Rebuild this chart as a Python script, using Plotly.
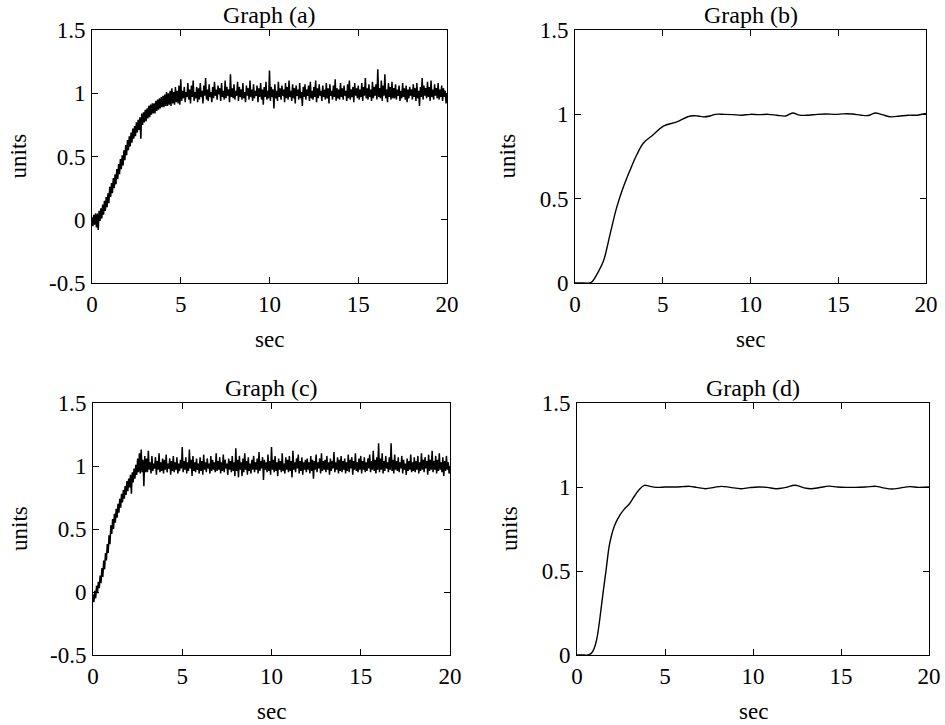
import plotly.graph_objects as go

# ---------------- data ----------------
T_NOISY = [round(i * 0.05, 2) for i in range(401)]

Y_A = [
    0.02, -0.05, 0.04, -0.04, 0.05, -0.06, 0.05, -0.08, 0.07, -0.01, 0.09, 0.01, 0.12, 0.04, 0.15, 0.07, 0.18, 0.10, 0.21, 0.13,
    0.26, 0.18, 0.29, 0.21, 0.33, 0.25, 0.36, 0.28, 0.40, 0.32, 0.44, 0.36, 0.48, 0.40, 0.51, 0.43, 0.55, 0.47, 0.59, 0.51,
    0.63, 0.55, 0.66, 0.58, 0.69, 0.61, 0.72, 0.64, 0.74, 0.66, 0.77, 0.69, 0.79, 0.71, 0.81, 0.64, 0.84, 0.75, 0.85, 0.77,
    0.87, 0.78, 0.88, 0.80, 0.90, 0.81, 0.91, 0.83, 0.92, 0.84, 0.92, 0.84, 0.94, 0.86, 0.95, 0.87, 0.96, 0.88, 0.97, 0.89,
    0.98, 0.89, 0.99, 0.90, 1.01, 0.90, 1.00, 0.91, 1.02, 0.90, 1.04, 0.92, 1.01, 0.91, 1.05, 0.93, 1.02, 0.92, 1.06, 0.91,
    1.11, 0.94, 1.02, 0.96, 1.05, 0.93, 1.01, 0.97, 1.08, 0.95, 1.03, 0.92, 1.06, 0.97, 1.10, 0.94, 1.01, 0.96, 1.05, 0.93,
    1.04, 0.95, 1.08, 0.97, 1.02, 0.92, 1.06, 0.98, 1.12, 0.95, 1.03, 0.94, 1.07, 0.97, 1.01, 0.93, 1.05, 0.96, 1.09, 0.98,
    1.03, 0.95, 1.06, 0.99, 1.04, 0.94, 1.08, 0.97, 1.02, 0.95, 1.10, 0.96, 1.05, 0.98, 1.03, 0.93, 1.15, 0.97, 1.04, 0.96,
    1.07, 0.95, 1.02, 0.98, 1.09, 0.94, 1.05, 0.97, 1.03, 0.95, 1.08, 0.96, 1.01, 0.93, 1.06, 0.98, 1.04, 0.95, 1.10, 0.97,
    1.03, 0.94, 1.07, 0.96, 1.02, 0.98, 1.06, 0.93, 1.04, 0.97, 1.08, 0.95, 1.03, 0.91, 1.05, 0.97, 1.09, 0.95, 1.02, 0.96,
    1.18, 0.94, 1.05, 0.97, 1.03, 0.88, 1.07, 0.96, 1.02, 0.94, 1.09, 0.97, 1.04, 0.95, 1.06, 0.98, 1.03, 0.93, 1.08, 0.96,
    1.05, 0.95, 1.10, 0.97, 1.02, 0.94, 1.07, 0.96, 1.04, 0.92, 1.06, 0.98, 1.03, 0.95, 1.08, 0.96, 1.01, 0.90, 1.05, 0.97,
    1.07, 0.95, 1.03, 0.98, 1.06, 0.94, 1.09, 0.96, 1.02, 0.95, 1.05, 0.97, 1.10, 0.93, 1.04, 0.96, 1.07, 0.98, 1.02, 0.94,
    1.06, 0.97, 1.03, 0.95, 1.08, 0.96, 1.04, 0.92, 1.07, 0.98, 1.02, 0.95, 1.06, 0.97, 1.11, 0.94, 1.04, 0.96, 1.03, 0.95,
    1.08, 0.97, 1.04, 0.95, 1.06, 0.98, 1.02, 0.94, 1.07, 0.96, 1.10, 0.95, 1.03, 0.97, 1.05, 0.93, 1.08, 0.98, 1.04, 0.96,
    1.06, 0.95, 1.03, 0.97, 1.08, 0.94, 1.05, 0.98, 1.12, 0.96, 1.04, 0.95, 1.07, 0.97, 1.03, 0.94, 1.09, 0.96, 1.05, 0.98,
    1.07, 0.95, 1.19, 0.97, 1.04, 0.96, 1.10, 0.94, 1.06, 0.98, 1.15, 0.96, 1.03, 0.93, 1.08, 0.97, 1.05, 0.95, 1.09, 0.96,
    1.04, 0.96, 1.07, 0.95, 1.03, 0.98, 1.06, 0.94, 1.02, 0.96, 1.08, 0.97, 1.04, 0.95, 1.06, 0.93, 1.03, 0.96, 1.05, 0.98,
    1.03, 0.95, 1.07, 0.97, 1.04, 0.94, 1.08, 0.96, 1.02, 0.90, 1.05, 0.97, 1.12, 0.95, 1.06, 0.98, 1.04, 0.96, 1.09, 0.97,
    1.05, 0.94, 1.10, 0.97, 1.03, 0.95, 1.07, 0.98, 1.04, 0.96, 1.08, 0.95, 1.03, 0.97, 1.06, 0.94, 1.04, 0.97, 1.02, 0.92, 1.00,
]

Y_C = [
    -0.02, -0.08, 0.01, -0.05, 0.05, -0.01, 0.08, 0.03, 0.13, 0.07, 0.19, 0.12, 0.25, 0.18, 0.31, 0.25, 0.38, 0.31, 0.45, 0.38,
    0.53, 0.46, 0.58, 0.50, 0.62, 0.55, 0.66, 0.59, 0.70, 0.63, 0.74, 0.67, 0.78, 0.71, 0.81, 0.74, 0.84, 0.77, 0.88, 0.80,
    0.90, 0.83, 0.93, 0.78, 0.95, 0.87, 0.98, 0.90, 1.01, 0.93, 1.06, 0.95, 1.10, 0.94, 1.13, 0.95, 1.05, 0.84, 1.08, 0.95,
    1.06, 0.95, 1.12, 0.97, 1.03, 0.94, 1.08, 0.96, 1.02, 0.98, 1.07, 0.93, 1.04, 0.97, 1.10, 0.95, 1.03, 0.96, 1.06, 0.94,
    1.05, 0.97, 1.09, 0.95, 1.02, 0.98, 1.06, 0.93, 1.04, 0.96, 1.08, 0.95, 1.03, 0.97, 1.07, 0.94, 1.02, 0.96, 1.05, 0.98,
    1.15, 0.95, 1.04, 0.97, 1.07, 0.94, 1.03, 0.96, 1.13, 0.98, 1.05, 0.92, 1.08, 0.96, 1.03, 0.95, 1.06, 0.97, 1.02, 0.94,
    1.07, 0.96, 1.04, 0.93, 1.09, 0.97, 1.03, 0.95, 1.06, 0.98, 1.02, 0.94, 1.08, 0.96, 1.05, 0.97, 1.03, 0.95, 1.10, 0.96,
    1.04, 0.97, 1.07, 0.94, 1.03, 0.96, 1.09, 0.95, 1.05, 0.98, 1.02, 0.93, 1.06, 0.97, 1.04, 0.95, 1.08, 0.96, 1.03, 0.92,
    1.14, 0.96, 1.05, 0.91, 1.08, 0.97, 1.03, 0.92, 1.06, 0.95, 1.10, 0.97, 1.04, 0.93, 1.07, 0.96, 1.02, 0.94, 1.05, 0.97,
    1.08, 0.95, 1.03, 0.97, 1.06, 0.94, 1.11, 0.96, 1.04, 0.98, 1.07, 0.89, 1.05, 0.97, 1.03, 0.95, 1.09, 0.96, 1.04, 0.93,
    1.15, 0.97, 1.05, 0.95, 1.08, 0.96, 1.03, 0.92, 1.06, 0.97, 1.04, 0.95, 1.10, 0.96, 1.02, 0.94, 1.07, 0.97, 1.05, 0.95,
    1.08, 0.96, 1.04, 0.91, 1.12, 0.97, 1.03, 0.95, 1.06, 0.98, 1.09, 0.94, 1.04, 0.96, 1.07, 0.93, 1.03, 0.97, 1.05, 0.95,
    1.06, 0.97, 1.03, 0.94, 1.08, 0.96, 1.05, 0.90, 1.04, 0.97, 1.09, 0.95, 1.03, 0.98, 1.06, 0.94, 1.10, 0.96, 1.04, 0.97,
    1.05, 0.95, 1.08, 0.97, 1.03, 0.93, 1.06, 0.96, 1.04, 0.98, 1.11, 0.95, 1.03, 0.97, 1.07, 0.94, 1.05, 0.96, 1.08, 0.95,
    1.04, 0.97, 1.06, 0.94, 1.03, 0.96, 1.09, 0.95, 1.05, 0.98, 1.07, 0.93, 1.04, 0.97, 1.10, 0.96, 1.03, 0.95, 1.06, 0.97,
    1.08, 0.94, 1.04, 0.97, 1.07, 0.95, 1.03, 0.96, 1.06, 0.98, 1.09, 0.95, 1.04, 0.97, 1.12, 0.96, 1.05, 0.94, 1.07, 0.97,
    1.18, 0.95, 1.06, 0.97, 1.10, 0.94, 1.04, 0.96, 1.08, 0.98, 1.03, 0.95, 1.07, 0.97, 1.18, 0.96, 1.05, 0.94, 1.09, 0.97,
    1.04, 0.96, 1.07, 0.95, 1.03, 0.98, 1.08, 0.94, 1.05, 0.97, 1.02, 0.93, 1.06, 0.96, 1.04, 0.97, 1.09, 0.95, 1.03, 0.96,
    1.07, 0.95, 1.04, 0.97, 1.08, 0.94, 1.03, 0.96, 1.10, 0.97, 1.05, 0.95, 1.07, 0.98, 1.04, 0.93, 1.09, 0.96, 1.05, 0.97,
    1.12, 0.95, 1.04, 0.97, 1.08, 0.94, 1.05, 0.96, 1.10, 0.97, 1.03, 0.95, 1.07, 0.92, 1.04, 0.96, 1.08, 0.97, 1.03, 0.94, 1.00,
]

T_B = [0, 0.5, 0.85, 1.0, 1.24, 1.62, 2.0, 2.38, 2.76, 3.14, 3.52, 3.9, 4.47, 5.04, 5.8, 6.57, 7.0, 7.3, 7.7,
       8.0, 8.5, 9.0, 9.5, 10.0, 10.5, 11.0, 11.5, 12.0, 12.4, 12.8, 13.3, 13.8, 14.3, 14.8, 15.3, 15.8,
       16.3, 16.7, 17.1, 17.5, 18.0, 18.5, 19.0, 19.5, 20.0]
Y_B = [0, 0, 0.0, 0.01, 0.05, 0.13, 0.29, 0.45, 0.57, 0.67, 0.76, 0.83, 0.88, 0.93, 0.955, 0.99, 0.99, 0.985, 0.99,
       1.0, 1.0, 0.998, 0.995, 1.0, 0.998, 1.0, 0.995, 0.99, 1.008, 0.995, 0.995, 1.0, 1.002, 1.0, 1.003, 1.002,
       0.995, 0.993, 1.008, 0.998, 0.985, 0.99, 0.995, 0.995, 1.005]

T_D = [0, 0.4, 0.64, 0.85, 1.01, 1.15, 1.29, 1.48, 1.67, 1.85, 2.13, 2.42, 2.7, 2.98, 3.26, 3.54, 3.82, 4.1, 4.5,
       5.0, 5.5, 6.0, 6.4, 6.8, 7.3, 7.8, 8.2, 8.7, 9.3, 9.8, 10.3, 10.8, 11.3, 11.8, 12.4, 12.9, 13.3, 13.8,
       14.3, 14.8, 15.3, 15.8, 16.4, 17.0, 17.4, 17.9, 18.4, 18.9, 19.4, 20.0]
Y_D = [0, 0, 0.0, 0.015, 0.05, 0.11, 0.21, 0.37, 0.52, 0.66, 0.77, 0.83, 0.87, 0.90, 0.945, 0.985, 1.01, 1.005, 0.998,
       1.0, 1.0, 1.002, 1.004, 0.998, 0.99, 0.998, 1.004, 0.998, 0.99, 0.996, 1.0, 0.998, 0.99, 0.996, 1.01, 0.995,
       0.99, 0.997, 1.005, 1.0, 0.998, 0.998, 1.0, 1.004, 0.995, 0.988, 0.995, 1.002, 0.998, 1.0]

TITLES = ["Graph (a)", "Graph (b)", "Graph (c)", "Graph (d)"]
X_LABEL = "sec"
Y_LABEL = "units"
X_TICKS = [0, 5, 10, 15, 20]
X_TICKTEXT = ["0", "5", "10", "15", "20"]
Y_TICKS_WIDE = [-0.5, 0, 0.5, 1, 1.5]
Y_TICKTEXT_WIDE = ["-0.5", "0", "0.5", "1", "1.5"]
Y_TICKS_POS = [0, 0.5, 1, 1.5]
Y_TICKTEXT_POS = ["0", "0.5", "1", "1.5"]

# ---------------- figure ----------------
W, H = 945, 725
FONT = "Liberation Serif"
FS_TICK = 23
FS_TEXT = 24

def px_x(p):
    return p / W

def px_y(p):
    return 1 - p / H

# plot boxes in screen pixels: (left, right, top, bottom)
boxes = [(92, 447, 30, 283), (575, 926, 30, 283), (93, 450, 403, 655), (577, 929, 403, 655)]

fig = go.Figure()

series = [
    (T_NOISY, Y_A, 1.5, "linear"),
    (T_B, Y_B, 1.4, "spline"),
    (T_NOISY, Y_C, 1.5, "linear"),
    (T_D, Y_D, 1.4, "spline"),
]

for i, (xs, ys, lw, shape) in enumerate(series):
    sfx = "" if i == 0 else str(i + 1)
    fig.add_trace(go.Scatter(
        x=xs, y=ys, mode="lines",
        line=dict(color="black", width=lw, shape=shape),
        xaxis="x" + sfx, yaxis="y" + sfx, showlegend=False,
        hoverinfo="skip",
    ))

layout_axes = {}
annotations = []
for i, (l, r, t, b) in enumerate(boxes):
    sfx = "" if i == 0 else str(i + 1)
    wide = i in (0, 2)
    common = dict(
        ticks="inside", ticklen=6, tickcolor="black", tickwidth=1,
        showline=True, linecolor="black", linewidth=1, mirror="ticks",
        showgrid=False, zeroline=False, automargin=False,
        tickfont=dict(family=FONT, size=FS_TICK, color="black"),
    )
    layout_axes["xaxis" + sfx] = dict(
        domain=[px_x(l), px_x(r)], anchor="y" + sfx, range=[0, 20],
        tickvals=X_TICKS, ticktext=X_TICKTEXT, **common,
    )
    layout_axes["yaxis" + sfx] = dict(
        domain=[px_y(b), px_y(t)], anchor="x" + sfx,
        range=[-0.5, 1.5] if wide else [0, 1.5],
        tickvals=Y_TICKS_WIDE if wide else Y_TICKS_POS,
        ticktext=Y_TICKTEXT_WIDE if wide else Y_TICKTEXT_POS,
        ticklabelstandoff=1, **common,
    )
    cx = (l + r) / 2
    cy = (t + b) / 2
    annotations.append(dict(text=TITLES[i], x=px_x(cx), y=px_y(t - 15), xref="paper", yref="paper",
                            xanchor="center", yanchor="middle", showarrow=False,
                            font=dict(family=FONT, size=FS_TEXT, color="black")))
    annotations.append(dict(text=X_LABEL, x=px_x(cx), y=px_y(b + 56), xref="paper", yref="paper",
                            xanchor="center", yanchor="middle", showarrow=False,
                            font=dict(family=FONT, size=FS_TICK, color="black")))
    annotations.append(dict(text=Y_LABEL, x=px_x(l - 74 if wide else l - 68), y=px_y(cy), xref="paper", yref="paper",
                            xanchor="center", yanchor="middle", showarrow=False, textangle=-90,
                            font=dict(family=FONT, size=FS_TICK, color="black")))

fig.update_layout(
    width=W, height=H,
    margin=dict(l=0, r=0, t=0, b=0, autoexpand=False),
    paper_bgcolor="white", plot_bgcolor="white",
    annotations=annotations,
    hovermode=False,
    **layout_axes,
)

fig.write_html(
    "out.html",
    config={"displayModeBar": False, "staticPlot": True},
    post_script="document.body.style.margin='0';document.body.style.overflow='hidden';",
)
